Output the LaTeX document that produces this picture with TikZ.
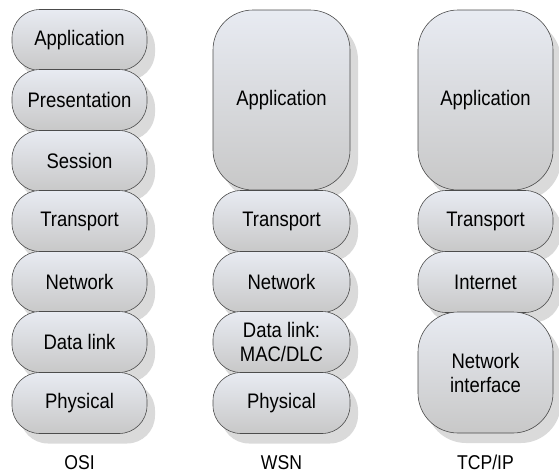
\documentclass[tikz,border=0pt]{standalone}
\usepackage{fontspec}
\setmainfont{Liberation Sans}[FakeStretch=0.88]
\usepackage{tikz}
\usetikzlibrary{shadows, positioning}
\definecolor{cellTop}{HTML}{E8EBF2}
\definecolor{cellBot}{HTML}{C8C8C8}
\definecolor{shadowGray}{HTML}{DADADA}

\begin{document}
\begin{tikzpicture}[
    % GLOBAL CFG
    x=1pt, y=-1pt,
    font=\fontsize{21}{24}\selectfont,
    % Styles
    layer/.style={% one layer of a stack
        rectangle,
        draw=black!70,
        line width=.6pt,
        top color=cellTop,
        bottom color=cellBot,
        minimum width=135pt,
        minimum height=61pt,
        rounded corners=28pt,
        align=center,
        inner sep=1pt,
        drop shadow={shadow xshift=8pt, shadow yshift=-10pt, fill=shadowGray, opacity=1},
        },
    biglayer/.style={% tall layers
        layer,
        rounded corners=40pt,
        },
    stackname/.style={% name under each stack
        font=\fontsize{20}{20}\selectfont,
        anchor=base,
        },
    ]

    \useasboundingbox (0,0) rectangle (559,474);

    % Draw the OSI stack
    \node [layer] (osiApp) at (79.5,40) {Application};
    \node [layer] (osiPres) at (79.5,100) {Presentation};
    \node [layer] (osiSes) at (79.5,161) {Session};
    \node [layer] (osiTrans) at (79.5,221) {Transport};
    \node [layer] (osiNet) at (79.5,282) {Network};
    \node [layer] (osiLink) at (79.5,342) {Data link};
    \node [layer] (osiPhy) at (79.5,403) {Physical};

    % Draw the WSN stack
    \node [biglayer, minimum height=180pt, minimum width=137pt] (wsnApp) at (281.5,100) {Application};
    \node [layer, minimum width=137pt] (wsnTrans) at (281.5,221) {Transport};
    \node [layer, minimum width=137pt] (wsnNet) at (281.5,282) {Network};
    \node [layer, minimum width=137pt] (wsnLink) at (281.5,342) {Data link:\\MAC/DLC};
    \node [layer, minimum width=137pt] (wsnPhy) at (281.5,403) {Physical};

    % Draw the TCP/IP stack
    \node [biglayer, minimum height=180pt] (tcpApp) at (485.5,100) {Application};
    \node [layer] (tcpTrans) at (485.5,221) {Transport};
    \node [layer] (tcpNet) at (485.5,282) {Internet};
    \node [biglayer, minimum height=121pt] (tcpIf) at (485.5,372.5) {Network\\interface};

    % Names of the stacks
    \node [stackname] (osiName) at (79.5,469) {OSI};
    \node [stackname] (wsnName) at (281.5,469) {WSN};
    \node [stackname] (tcpName) at (485.5,469) {TCP/IP};
\end{tikzpicture}
\end{document}
